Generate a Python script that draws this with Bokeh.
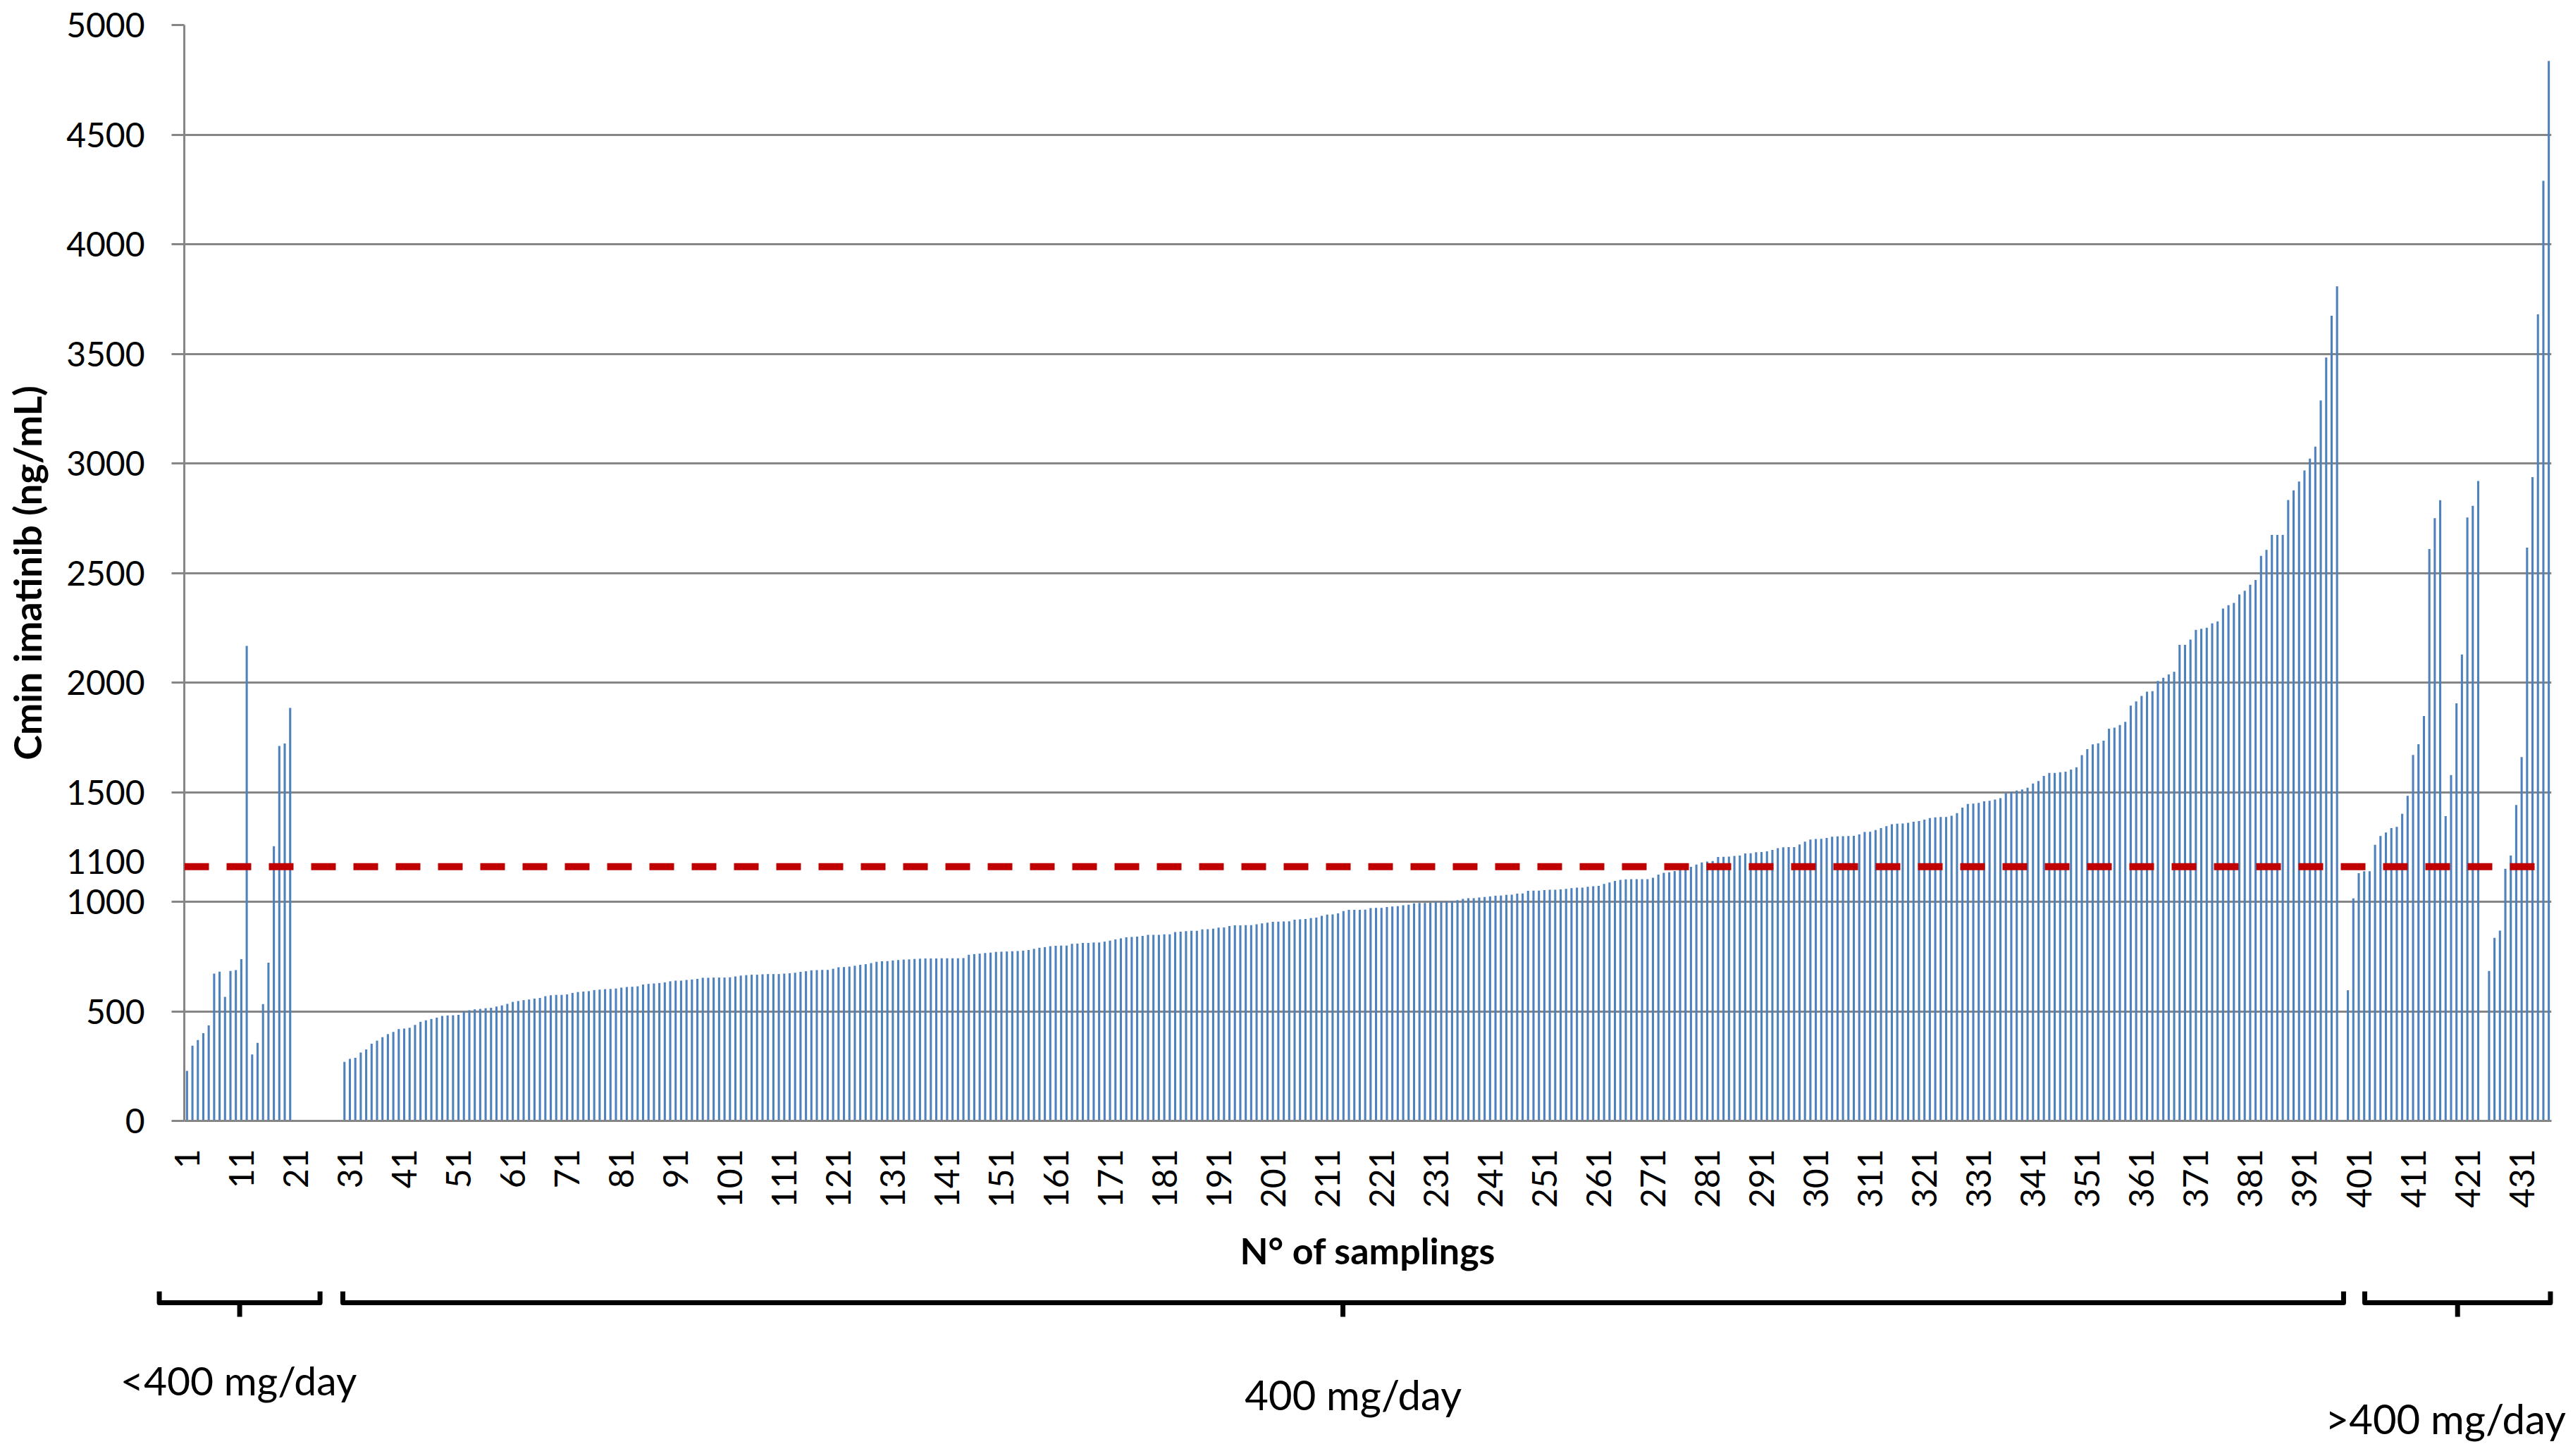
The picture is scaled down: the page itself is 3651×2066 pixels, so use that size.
from math import pi
from bokeh.plotting import figure
from bokeh.models import Range1d, FixedTicker, Span, ColumnDataSource
from bokeh.embed import file_html
from bokeh.resources import INLINE
from bokeh.core.properties import value

# ---------------- data ----------------
n_samplings = 436

# <400 mg/day  (samplings 1..20)
low_start = 1
low_dose = [228, 343, 369, 400, 436, 672, 681, 566, 684, 688,
            738, 2167, 303, 356, 533, 722, 1253, 1711, 1722, 1884]

# 400 mg/day  (samplings 30..397)
std_start = 30
std_dose = [
    269, 283, 288, 312, 326, 352, 366, 382, 396, 406,
    419, 421, 425, 438, 452, 459, 465, 471, 479, 481,
    482, 484, 498, 505, 509, 511, 514, 516, 522, 527,
    534, 543, 547, 551, 554, 558, 561, 569, 573, 575,
    575, 577, 584, 588, 590, 592, 597, 599, 601, 602,
    604, 608, 611, 612, 614, 622, 625, 627, 629, 632,
    637, 640, 640, 643, 645, 648, 653, 653, 654, 654,
    654, 655, 659, 663, 665, 667, 667, 669, 670, 670,
    670, 672, 674, 676, 680, 683, 687, 688, 689, 689,
    694, 701, 702, 704, 708, 712, 715, 720, 726, 728,
    729, 732, 734, 736, 737, 739, 740, 741, 741, 741,
    742, 742, 742, 742, 743, 758, 761, 763, 766, 768,
    771, 772, 773, 774, 775, 777, 780, 785, 790,
    793, 797, 799, 800, 800, 808, 809, 812, 812, 814,
    814, 818, 822, 828, 833, 838, 839, 841, 844, 849,
    849, 849, 851, 851, 862, 863, 866, 867, 867, 874,
    875, 877, 882, 883, 889, 892, 892, 893, 893, 897,
    901, 904, 908, 909, 910, 911, 918, 920, 921, 925,
    928, 936, 941, 942, 947, 957, 963, 963, 963, 964,
    971, 972, 972, 976, 978, 980, 984, 986, 993, 994,
    994, 995, 999, 1000, 1001, 1003, 1007, 1013, 1016, 1016,
    1019, 1022, 1024, 1027, 1028, 1031, 1032, 1037, 1038, 1050,
    1051, 1051, 1053, 1055, 1055, 1056, 1059, 1062, 1064, 1064,
    1068, 1071, 1072, 1081, 1088, 1095, 1100, 1102, 1103, 1103,
    1103, 1103, 1109, 1124, 1132, 1134, 1140, 1149, 1154, 1159,
    1170, 1179, 1183, 1186, 1204, 1205, 1206, 1209, 1211, 1220,
    1221, 1226, 1227, 1230, 1236, 1244, 1248, 1249, 1249, 1261,
    1274, 1284, 1286, 1287, 1291, 1297, 1298, 1299, 1300, 1301,
    1307, 1318, 1319, 1327, 1336, 1345, 1354, 1356,
    1357, 1360, 1365, 1368, 1375, 1382, 1385, 1387, 1387, 1392,
    1404, 1429, 1446, 1448, 1451, 1458, 1461, 1466, 1473, 1495,
    1502, 1507, 1512, 1520, 1539, 1551, 1574, 1588, 1588, 1591,
    1593, 1603, 1613, 1669, 1696, 1718, 1723, 1735, 1789, 1794,
    1806, 1821, 1895, 1914, 1939, 1958, 1961, 2007, 2022, 2037,
    2049, 2172, 2172, 2196, 2240, 2245, 2250, 2270, 2279, 2338,
    2353, 2363, 2402, 2419, 2446, 2468, 2578, 2605, 2674, 2674,
    2674, 2833, 2877, 2917, 2968, 3022, 3076, 3287, 3483, 3674,
    3808,
]

# >400 mg/day  (samplings 399..423 and 425..436)
high_a_start = 399
high_a_dose = [596, 1015, 1130, 1139, 1139, 1260, 1300, 1316, 1336, 1342,
               1401, 1483, 1670, 1719, 1847, 2609, 2750, 2832, 1391, 1578,
               1905, 2128, 2753, 2806, 2920]
high_b_start = 425
high_b_dose = [684, 835, 868, 1150, 1211, 1441, 1660, 2616, 2937, 3680,
               4289, 4836]

threshold_line = 1160          # red dashed line as drawn
threshold_label = "1100"
threshold_label_at = 1184      # where the "1100" label sits on the axis
y_ticks = [0, 500, 1000, 1500, 2000, 2500, 3000, 3500, 4000, 4500, 5000]
x_ticks = list(range(1, n_samplings + 1, 10))

group_labels = ["<400 mg/day", "400 mg/day", ">400 mg/day"]
# bracket extents in sampling units
bracket_left = [-4.1, 29.7, 402.1]
bracket_right = [25.5, 398.2, 436.3]
bracket_mid = [10.7, 213.9, 419.2]
label_x = [10.5, 215.8, 417.0]

# ---------------- build series ----------------
xs, ys = [], []
for start, vals in [(low_start, low_dose), (std_start, std_dose),
                    (high_a_start, high_a_dose), (high_b_start, high_b_dose)]:
    for i, v in enumerate(vals):
        xs.append(start + i)
        ys.append(v)
src = ColumnDataSource(dict(x=xs, top=ys))

# ---------------- layout constants ----------------
W = 3651
H1 = 1808
H2 = 256
FL, FR_B, FT = 261, 31, 35
FB = H1 - 1593

FONT = "Lato"
GRID = "#868686"

p = figure(width=W, height=H1, output_backend="svg", toolbar_location=None,
           x_range=Range1d(0.5, n_samplings + 0.5), y_range=Range1d(0, 5000),
           min_border_left=FL, min_border_right=FR_B, min_border_top=FT,
           min_border_bottom=FB)
p.outline_line_color = None
p.background_fill_color = "white"
p.border_fill_color = "white"

p.vbar(x="x", top="top", width=0.4, source=src, fill_color="#4F81BD",
       line_color=None)

p.add_layout(Span(location=threshold_line, dimension="width",
                  line_color="#C00000", line_width=10, line_dash="35 25"))

# x axis
p.xaxis.ticker = FixedTicker(ticks=x_ticks)
p.xaxis.major_label_orientation = pi / 2
p.xaxis.major_tick_line_color = None
p.xaxis.major_tick_out = 0
p.xaxis.major_tick_in = 0
p.xaxis.minor_tick_line_color = None
p.xaxis.axis_line_color = GRID
p.xaxis.axis_line_width = 3
p.xaxis.major_label_standoff = 40
p.xaxis.major_label_text_font = FONT
p.xaxis.major_label_text_font_size = "48px"
p.xaxis.major_label_text_color = "black"
p.xaxis.axis_label = "N° of samplings"
p.xaxis.axis_label_text_font = FONT
p.xaxis.axis_label_text_font_style = "bold"
p.xaxis.axis_label_text_font_size = "52px"
p.xaxis.axis_label_text_color = "black"
p.xaxis.axis_label_standoff = 26

# y axis: labels on major ticks (incl. the "1100" one), visible tick marks
# only at the gridline values (minor ticks)
p.yaxis.ticker = FixedTicker(ticks=sorted(y_ticks + [threshold_label_at]),
                             minor_ticks=y_ticks)
p.yaxis.major_label_overrides = {threshold_label_at: threshold_label}
p.yaxis.major_tick_out = 18
p.yaxis.major_tick_in = 0
p.yaxis.major_tick_line_color = None
p.yaxis.minor_tick_out = 18
p.yaxis.minor_tick_in = 0
p.yaxis.minor_tick_line_color = GRID
p.yaxis.minor_tick_line_width = 3
p.yaxis.axis_line_color = GRID
p.yaxis.axis_line_width = 3
p.yaxis.major_label_standoff = 38
p.yaxis.major_label_text_font = FONT
p.yaxis.major_label_text_font_size = "48px"
p.yaxis.major_label_text_color = "black"
p.yaxis.axis_label = "Cmin imatinib (ng/mL)"
p.yaxis.axis_label_text_font = FONT
p.yaxis.axis_label_text_font_style = "bold"
p.yaxis.axis_label_text_font_size = "54px"
p.yaxis.axis_label_text_color = "black"
p.yaxis.axis_label_standoff = 20

p.xgrid.grid_line_color = None
p.ygrid.ticker = FixedTicker(ticks=y_ticks)
p.ygrid.grid_line_color = GRID
p.ygrid.grid_line_width = 3

# ---------------- group brackets below (own root, full-width frame) ----------
unit = (W - FR_B - FL) / n_samplings
x2_start = 0.5 - FL / unit
x2_end = 0.5 + (W - FL) / unit
p2 = figure(width=W, height=H2, output_backend="svg", toolbar_location=None,
            x_range=Range1d(x2_start, x2_end),
            y_range=Range1d(H1 + H2, H1),
            x_axis_type=None, y_axis_type=None, min_border=0)
p2.outline_line_color = None
p2.xgrid.grid_line_color = None
p2.ygrid.grid_line_color = None
p2.background_fill_color = "white"
p2.border_fill_color = "white"

y_top, y_bar, y_tip = 1832, 1848, 1868
br_xs = [[l, l, r, r] for l, r in zip(bracket_left, bracket_right)]
br_ys = [[y_top, y_bar, y_bar, y_top] for _ in bracket_left]
tk_xs = [[m, m] for m in bracket_mid]
tk_ys = [[y_bar, y_tip] for _ in bracket_mid]
p2.multi_line(xs=br_xs + tk_xs, ys=br_ys + tk_ys, line_color="black",
              line_width=7, line_join="round")

lab_src = ColumnDataSource(dict(x=label_x, y=[1957, 1978, 2012],
                                text=group_labels,
                                size=["57px", "58px", "58px"]))
p2.text(x="x", y="y", text="text", source=lab_src, text_font=value(FONT),
        text_font_size="size", text_align="center", text_baseline="middle",
        text_color="black")

open("out.html", "w").write(file_html([p, p2], INLINE))
